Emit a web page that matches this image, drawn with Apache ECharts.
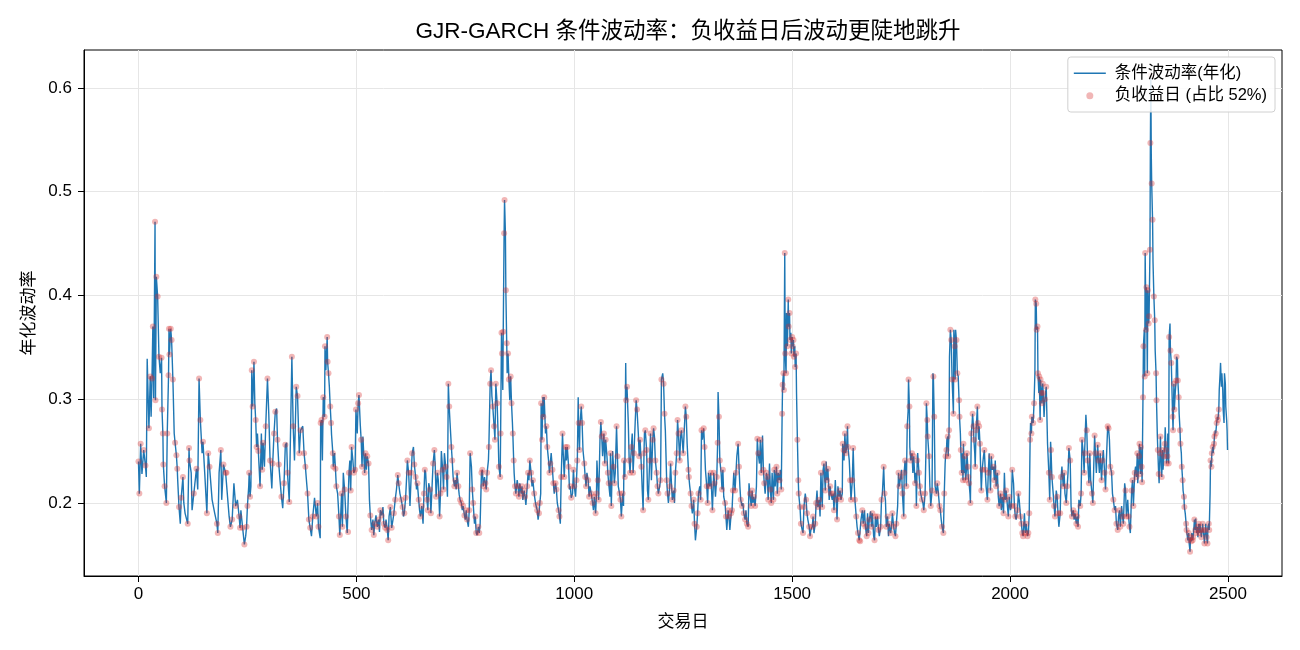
<!DOCTYPE html>
<html>
<head>
<meta charset="utf-8">
<title>GJR-GARCH 条件波动率</title>
<script src="https://cdn.jsdelivr.net/npm/echarts@6/dist/echarts.min.js"></script>
<style>
  html, body { margin: 0; padding: 0; background: #fff; }
  #main { width: 1300px; height: 650px; }
</style>
</head>
<body>
<div id="main"></div>
<script>
// 交易日 (读图估计的采样点)
var days = [
  0,2,5,8,12,16,18,20,24,27,29,31,33,35,38,39,41,44,47,50,53,54,56,57,60,64,66,69,70,71,74,76,79,82,84,87,89,90,93,96,98,102,104,107,113,116,117,121,123,127,133,136,139,142,146,148,152,157,160,163,169,175,180,182,185,189,191,195,200,
  202,208,211,215,219,223,227,231,233,235,239,243,246,248,250,253,254,256,258,260,262,265,267,269,271,273,275,279,282,284,286,289,292,296,299,302,306,308,311,314,317,319,322,325,328,331,334,337,340,342,346,349,352,355,358,362,365,368,369,372,377,380,383,386,388,391,394,397,400,404,408,411,
  413,417,418,420,422,424,427,428,430,433,434,436,438,440,442,443,446,447,450,452,454,457,460,462,463,466,468,470,473,476,479,481,483,485,487,489,492,494,497,499,502,504,506,509,511,513,515,519,521,523,525,528,530,532,535,538,540,542,545,548,551,553,555,558,561,563,566,568,571,573,575,578,581,584,586,589,592,595,597,600,603,606,608,610,613,615,617,620,
  623,626,628,631,633,636,638,640,643,645,647,650,653,655,657,659,662,664,666,669,671,674,676,679,681,683,686,688,691,693,695,698,700,702,705,707,709,711,713,715,718,720,722,725,727,729,731,734,736,738,741,743,745,748,750,752,754,757,759,761,764,766,768,771,773,775,777,780,782,784,787,789,791,794,796,798,800,803,804,807,809,811,813,816,818,820,823,825,827,
  830,831,833,834,836,837,839,840,842,843,845,846,848,850,852,854,856,858,859,861,862,864,866,869,871,873,875,878,880,882,885,887,889,892,894,896,898,901,903,905,908,910,912,915,917,919,921,923,924,926,928,929,931,934,936,938,941,943,945,947,950,952,954,957,959,961,964,966,968,970,973,975,977,980,982,984,987,989,991,993,996,998,1000,1003,1005,1007,1009,1010,1012,1013,1016,1018,1020,1023,1025,1027,1029,1032,1034,1036,
  1039,1042,1044,1046,1049,1051,1052,1054,1056,1059,1061,1063,1065,1068,1070,1072,1075,1077,1079,1082,1083,1085,1088,1090,1092,1094,1097,1099,1101,1104,1106,1108,1111,1113,1114,1116,1118,1119,1121,1124,1126,1128,1131,1133,1135,1137,1140,1142,1144,1147,1149,1151,1154,1156,1158,1160,1161,1163,1166,1168,1170,1173,1175,1177,1180,1182,1184,1186,1189,1191,1193,1196,1198,1200,1203,1205,1207,1209,1212,1214,1216,1219,1221,1223,1225,1228,1230,1232,1235,1237,1239,1242,1244,1246,
  1250,1252,1255,1257,1259,1262,1263,1265,1267,1269,1271,1274,1276,1278,1281,1283,1285,1288,1290,1292,1294,1297,1299,1301,1304,1306,1308,1311,1313,1315,1317,1320,1322,1324,1327,1329,1330,1332,1334,1337,1339,1341,1343,1346,1348,1350,1353,1355,1357,1360,1362,1364,1366,1369,1371,1373,1376,1378,1380,1382,1385,1387,1389,1392,1394,1396,1399,1401,1403,1406,1408,1410,1412,1415,1418,1420,1422,1425,1427,1429,1432,1434,1436,1438,1441,1443,1445,1448,1450,1452,1454,
  1457,1459,1461,1464,1466,1468,1471,1473,1475,1477,1478,1480,1481,1483,1484,1486,1487,1489,1491,1492,1494,1495,1497,1498,1500,1501,1503,1504,1506,1507,1509,1510,1512,1514,1515,1517,1518,1520,1523,1525,1527,1530,1532,1534,1536,1539,1541,1543,1546,1548,1550,1553,1555,1557,1559,1562,1564,1566,1569,1571,1573,1576,1578,1580,1582,1585,1587,1589,1592,1594,1596,1599,1601,1603,1605,1608,1610,1612,1615,1616,1618,1619,1621,1623,1625,1627,1628,1631,1633,1635,1638,1640,1642,1644,1647,1649,1651,1654,1656,1658,1661,1663,
  1666,1668,1671,1673,1675,1677,1680,1682,1684,1687,1689,1691,1693,1696,1698,1700,1703,1705,1707,1710,1712,1714,1716,1719,1721,1723,1726,1728,1730,1733,1735,1737,1739,1742,1744,1746,1749,1751,1753,1756,1757,1759,1761,1762,1764,1766,1767,1769,1770,1772,1775,1777,1779,1782,1784,1785,1787,1788,1791,1793,1795,1798,1800,1802,1805,1807,1808,1810,1811,1814,1816,1818,1821,1823,1824,1826,1828,1831,1833,1835,1838,1840,1842,1844,1847,1849,1851,1852,1854,1855,1857,1858,1860,1861,1863,1865,1867,1870,1871,1873,1874,
  1875,1877,1879,1881,1883,1884,1886,1887,1889,1890,1892,1893,1895,1896,1898,1900,1901,1903,1904,1906,1908,1909,1911,1913,1914,1916,1917,1919,1920,1922,1923,1925,1926,1928,1929,1931,1932,1934,1936,1939,1941,1943,1945,1948,1950,1952,1955,1957,1959,1962,1964,1966,1968,1971,1973,1975,1978,1980,1982,1985,1987,1989,1991,1994,1996,1998,2001,2003,2005,2008,2010,2012,2014,2017,2019,2021,2024,2026,2028,2030,2033,2035,2037,2040,2042,2044,2046,2047,2049,2050,2053,2055,2057,2058,2060,2061,2063,2064,2066,2067,2069,2070,2072,2073,2075,2076,2078,2080,2083,
  2086,2089,2091,2093,2094,2096,2099,2101,2103,2106,2108,2110,2112,2115,2117,2119,2122,2124,2126,2129,2131,2133,2135,2138,2140,2142,2145,2147,2149,2152,2154,2156,2158,2161,2163,2165,2168,2170,2171,2174,2176,2178,2181,2183,2185,2188,2190,2192,2194,2196,2198,2201,2203,2205,2207,2210,2212,2214,2217,2219,2221,2224,2226,2228,2230,2233,2235,2237,2240,2242,2244,2247,2249,2251,2253,2256,2258,2260,2263,2265,2267,2270,2272,2274,2276,2279,2281,2283,2286,2288,2290,2292,
  2293,2296,2297,2299,2300,2302,2303,2305,2306,2308,2309,2310,2312,2313,2315,2316,2318,2319,2321,2322,2323,2324,2325,2327,2328,2330,2332,2333,2335,2336,2338,2339,2341,2342,2344,2345,2347,2348,2350,2351,2353,2355,2356,2358,2359,2361,2362,2364,2365,2367,2368,2370,2371,2373,2374,2376,2377,2379,2381,2382,2384,2385,2387,2388,2390,2391,2393,2394,2396,2397,2399,2400,2402,2404,2405,2407,2408,2410,2411,2413,2414,2416,2417,2419,2420,2422,2423,2425,2426,2428,2430,2431,2433,2434,2436,2437,2439,2440,2442,2443,2445,2446,2448,2449,2451,2453,2454,2456,2457,2459,2460,2462,2463,2465,2466,2468,2469,2471,2472,2474,2476,2477,2479,2480,2482,2483,2485,2486,2488,2489,2491,2492,2494,2495,2497,2498,2499
];

// 条件波动率(年化)
var vol = [
  0.240,0.209,0.257,0.228,0.251,0.236,0.225,0.339,0.272,0.322,0.283,0.320,0.370,0.301,0.471,0.299,0.418,0.399,0.341,0.325,0.340,0.290,0.267,0.237,0.216,0.200,0.267,0.323,0.368,0.343,0.368,0.357,0.319,0.267,0.258,0.246,0.233,0.222,0.196,0.180,0.205,0.225,0.200,0.190,0.180,0.253,0.241,0.229,0.193,0.209,0.233,0.213,0.320,0.280,0.248,0.259,0.229,0.190,0.248,0.235,0.203,0.190,0.180,0.171,0.229,0.251,0.203,0.237,0.229,
  0.229,0.187,0.177,0.184,0.219,0.197,0.203,0.187,0.176,0.193,0.176,0.160,0.168,0.177,0.197,0.216,0.229,0.206,0.216,0.328,0.293,0.336,0.296,0.280,0.254,0.267,0.250,0.216,0.267,0.232,0.258,0.235,0.274,0.320,0.286,0.241,0.214,0.238,0.267,0.288,0.291,0.261,0.237,0.221,0.206,0.195,0.219,0.256,0.258,0.229,0.201,0.270,0.341,0.274,0.241,0.312,0.303,0.261,0.248,0.270,0.274,0.248,0.235,0.219,0.209,0.184,0.176,0.168,0.187,0.205,0.187,0.200,
  0.177,0.166,0.277,0.280,0.241,0.302,0.283,0.351,0.328,0.360,0.336,0.325,0.312,0.293,0.277,0.266,0.248,0.235,0.248,0.233,0.216,0.209,0.187,0.169,0.177,0.209,0.177,0.229,0.213,0.187,0.171,0.172,0.229,0.241,0.212,0.254,0.241,0.229,0.232,0.290,0.267,0.296,0.304,0.275,0.261,0.235,0.264,0.229,0.248,0.232,0.245,0.238,0.203,0.188,0.174,0.184,0.169,0.180,0.188,0.177,0.184,0.172,0.193,0.188,0.196,0.180,0.176,0.184,0.174,0.164,0.187,0.196,0.176,0.184,0.190,0.203,0.213,0.227,0.219,0.209,0.203,0.196,0.187,0.190,0.205,0.222,0.241,0.229,
  0.197,0.229,0.248,0.254,0.237,0.225,0.213,0.219,0.203,0.193,0.187,0.197,0.180,0.209,0.232,0.229,0.203,0.193,0.219,0.213,0.190,0.219,0.238,0.251,0.235,0.206,0.229,0.222,0.187,0.209,0.250,0.232,0.213,0.248,0.235,0.225,0.206,0.315,0.293,0.277,0.254,0.241,0.225,0.216,0.222,0.213,0.229,0.216,0.208,0.203,0.200,0.193,0.197,0.188,0.184,0.193,0.184,0.177,0.193,0.248,0.235,0.213,0.200,0.180,0.187,0.171,0.169,0.177,0.171,0.180,0.229,0.232,0.216,0.225,0.219,0.213,0.229,0.241,0.254,0.315,0.328,0.303,0.293,0.274,0.261,0.315,0.296,0.270,0.235,
  0.225,0.267,0.364,0.344,0.309,0.365,0.460,0.492,0.460,0.405,0.354,0.325,0.344,0.319,0.299,0.322,0.296,0.278,0.267,0.241,0.229,0.216,0.209,0.222,0.216,0.206,0.219,0.209,0.216,0.203,0.212,0.206,0.198,0.216,0.229,0.222,0.241,0.229,0.216,0.222,0.209,0.203,0.198,0.193,0.184,0.190,0.200,0.209,0.296,0.261,0.302,0.283,0.302,0.267,0.274,0.254,0.241,0.229,0.238,0.248,0.232,0.219,0.209,0.219,0.213,0.200,0.193,0.187,0.180,0.225,0.267,0.245,0.225,0.254,0.241,0.254,0.235,0.213,0.216,0.205,0.209,0.232,0.216,0.206,0.222,0.241,0.302,0.277,0.251,0.274,0.293,0.277,0.251,0.238,0.225,0.216,0.229,0.222,0.206,0.216,
  0.209,0.200,0.193,0.206,0.190,0.209,0.241,0.222,0.203,0.261,0.278,0.264,0.245,0.267,0.238,0.261,0.245,0.229,0.219,0.206,0.248,0.197,0.250,0.235,0.219,0.229,0.274,0.245,0.216,0.209,0.203,0.187,0.209,0.197,0.241,0.225,0.335,0.299,0.312,0.277,0.241,0.229,0.254,0.267,0.229,0.248,0.280,0.299,0.290,0.267,0.245,0.261,0.235,0.212,0.193,0.248,0.267,0.270,0.251,0.212,0.203,0.241,0.267,0.222,0.261,0.272,0.264,0.241,0.229,0.216,0.209,0.216,0.222,0.319,0.325,0.315,0.286,0.270,0.222,0.209,0.200,0.216,0.238,0.219,0.203,0.212,0.200,0.229,0.248,0.280,0.267,0.241,0.264,0.270,
  0.248,0.267,0.293,0.283,0.257,0.232,0.225,0.216,0.209,0.197,0.190,0.203,0.180,0.164,0.177,0.190,0.209,0.216,0.203,0.270,0.261,0.272,0.254,0.232,0.216,0.200,0.229,0.216,0.229,0.213,0.193,0.229,0.219,0.206,0.225,0.258,0.307,0.283,0.241,0.229,0.213,0.232,0.206,0.200,0.187,0.174,0.193,0.187,0.174,0.190,0.193,0.212,0.229,0.212,0.229,0.245,0.257,0.235,0.216,0.203,0.197,0.200,0.190,0.184,0.193,0.180,0.177,0.219,0.209,0.197,0.212,0.200,0.206,0.197,0.216,0.262,0.248,0.238,0.261,0.229,0.265,0.232,0.219,0.209,0.229,0.225,0.203,0.238,0.213,0.200,0.229,
  0.203,0.232,0.216,0.235,0.209,0.229,0.222,0.232,0.213,0.286,0.314,0.325,0.309,0.441,0.344,0.325,0.383,0.351,0.396,0.370,0.383,0.357,0.364,0.344,0.360,0.351,0.357,0.341,0.351,0.331,0.344,0.306,0.261,0.222,0.209,0.200,0.196,0.180,0.174,0.171,0.196,0.209,0.203,0.190,0.184,0.177,0.168,0.174,0.177,0.187,0.171,0.180,0.200,0.212,0.196,0.203,0.187,0.229,0.196,0.232,0.238,0.212,0.240,0.222,0.233,0.203,0.216,0.209,0.203,0.209,0.193,0.222,0.203,0.184,0.216,0.206,0.212,0.203,0.209,0.257,0.251,0.241,0.267,0.248,0.254,0.274,0.254,0.241,0.222,0.203,0.222,0.253,0.222,0.203,0.187,0.177,0.171,0.164,0.163,0.184,0.193,0.180,
  0.193,0.177,0.168,0.190,0.171,0.184,0.192,0.177,0.190,0.168,0.164,0.187,0.177,0.187,0.174,0.168,0.177,0.203,0.209,0.235,0.209,0.203,0.177,0.187,0.168,0.180,0.171,0.177,0.190,0.177,0.171,0.168,0.180,0.197,0.229,0.216,0.225,0.232,0.209,0.187,0.229,0.241,0.229,0.216,0.274,0.288,0.319,0.293,0.254,0.241,0.248,0.229,0.245,0.219,0.229,0.197,0.241,0.248,0.229,0.216,0.209,0.203,0.200,0.193,0.209,0.251,0.296,0.280,0.264,0.245,0.216,0.197,0.212,0.325,0.322,0.283,0.216,0.209,0.219,0.212,0.197,0.193,0.184,0.177,0.171,0.209,0.238,0.245,0.251,0.261,0.264,0.245,0.270,0.341,0.367,0.357,0.319,0.286,0.367,0.351,0.319,
  0.367,0.357,0.325,0.322,0.299,0.283,0.267,0.251,0.229,0.248,0.222,0.257,0.229,0.245,0.222,0.232,0.248,0.235,0.225,0.219,0.209,0.200,0.267,0.277,0.286,0.274,0.261,0.248,0.235,0.270,0.277,0.293,0.277,0.261,0.274,0.257,0.241,0.212,0.232,0.245,0.251,0.232,0.216,0.203,0.229,0.248,0.212,0.245,0.232,0.235,0.222,0.241,0.216,0.229,0.206,0.197,0.209,0.193,0.206,0.190,0.229,0.203,0.212,0.197,0.187,0.206,0.193,0.197,0.232,0.219,0.197,0.187,0.184,0.193,0.209,0.203,0.187,0.180,0.171,0.168,0.190,0.171,0.180,0.168,0.171,0.190,0.261,0.277,0.267,0.283,0.277,0.296,0.325,0.396,0.392,0.367,0.370,0.325,0.306,0.322,0.280,0.319,0.306,0.296,0.315,0.306,0.283,0.300,0.312,
  0.257,0.229,0.203,0.259,0.251,0.225,0.209,0.197,0.187,0.212,0.206,0.190,0.177,0.190,0.225,0.235,0.216,0.229,0.209,0.200,0.216,0.229,0.253,0.241,0.197,0.187,0.193,0.184,0.190,0.180,0.187,0.177,0.203,0.197,0.209,0.261,0.248,0.229,0.248,0.285,0.270,0.241,0.219,0.248,0.222,0.209,0.200,0.235,0.265,0.248,0.229,0.256,0.241,0.229,0.248,0.222,0.241,0.251,0.229,0.213,0.241,0.274,0.272,0.261,0.235,0.229,0.209,0.203,0.193,0.197,0.180,0.174,0.187,0.193,0.177,0.197,0.187,0.180,0.219,0.212,0.187,0.203,0.187,0.177,0.171,0.212,0.222,0.197,0.229,0.235,0.225,0.248,
  0.219,0.245,0.257,0.228,0.254,0.235,0.220,0.302,0.351,0.367,0.322,0.441,0.367,0.408,0.325,0.405,0.373,0.380,0.444,0.547,0.612,0.537,0.508,0.473,0.433,0.399,0.376,0.347,0.325,0.299,0.264,0.251,0.228,0.219,0.248,0.264,0.235,0.225,0.251,0.232,0.245,0.257,0.273,0.251,0.238,0.245,0.267,0.238,0.360,0.373,0.347,0.335,0.318,0.283,0.270,0.315,0.290,0.306,0.318,0.341,0.338,0.318,0.302,0.286,0.270,0.257,0.248,0.235,0.222,0.212,0.206,0.196,0.190,0.180,0.174,0.167,0.164,0.171,0.161,0.153,0.167,0.163,0.171,0.164,0.167,0.177,0.184,0.174,0.185,0.171,0.177,0.167,0.180,0.171,0.180,0.174,0.167,0.171,0.180,0.174,0.167,0.161,0.174,0.180,0.167,0.161,0.177,0.180,0.174,0.209,0.241,0.235,0.248,0.254,0.248,0.257,0.264,0.270,0.267,0.277,0.283,0.280,0.290,0.309,0.325,0.335,0.312,0.325,0.309,0.290,0.277,0.325,0.315,0.293,0.280,0.270,0.251
];

// 负收益日标记 (1 = 当日收益为负)
var neg = [
  1,1,1,0,1,1,0,0,1,1,0,1,1,0,1,1,1,1,1,0,1,1,1,1,1,1,1,1,1,1,1,1,1,0,1,1,1,0,1,0,1,1,0,0,1,1,1,0,0,1,1,0,1,1,0,1,0,1,1,1,0,0,1,1,0,1,0,1,1,
  1,0,1,1,0,1,0,1,1,0,1,1,0,1,1,0,1,1,0,1,1,1,0,1,1,0,1,1,0,1,1,0,1,1,0,1,0,1,1,1,0,1,1,0,1,0,1,1,0,1,1,0,1,1,0,1,1,0,1,1,0,1,1,0,1,1,1,0,1,0,1,1,
  1,0,1,1,0,1,1,1,0,1,1,1,0,1,1,0,1,1,0,1,1,0,1,1,0,1,1,0,1,1,0,1,1,0,1,1,0,1,1,1,0,1,1,0,1,1,0,1,1,0,1,1,0,1,1,0,1,1,0,1,1,0,1,1,0,1,1,0,1,1,0,1,1,0,1,1,0,1,1,0,1,1,0,
  1,1,0,1,1,0,1,1,0,1,1,0,1,1,0,1,1,0,1,1,0,1,1,0,1,1,0,1,1,0,1,1,0,1,1,0,1,1,0,1,1,0,1,1,0,1,1,0,1,1,0,1,1,0,1,1,0,1,1,0,1,1,0,1,1,0,1,1,0,1,1,0,1,1,0,1,1,1,0,1,1,1,0,1,1,1,0,1,1,
  1,1,1,0,1,1,1,1,1,0,1,1,1,0,1,1,0,1,1,0,1,1,0,1,1,0,1,1,0,1,1,0,1,1,0,1,1,0,1,1,0,1,1,0,1,1,0,1,1,0,1,1,0,1,1,0,1,1,0,1,1,0,1,1,0,1,1,0,1,1,0,1,1,0,1,1,0,1,1,0,1,1,0,1,1,0,1,1,0,1,1,0,1,1,0,1,1,0,1,1,
  1,0,1,1,0,1,1,0,1,1,1,0,1,1,0,1,1,0,1,1,1,0,1,1,0,1,1,0,1,1,0,1,1,0,1,1,1,1,0,1,1,0,1,1,0,1,1,1,0,1,1,0,1,1,0,1,1,1,0,1,1,0,1,1,0,1,1,1,0,1,1,0,1,1,1,1,0,1,1,0,1,1,0,1,1,0,1,1,0,1,1,0,1,1,
  1,1,1,0,1,1,0,1,1,0,1,1,0,1,1,0,1,1,0,1,1,1,0,1,1,0,1,1,0,1,1,0,1,1,0,1,1,1,0,1,1,0,1,1,0,1,1,0,1,1,0,1,1,0,1,1,1,0,1,1,0,1,1,0,1,1,0,1,1,0,1,1,0,1,1,1,0,1,1,0,1,1,0,1,1,0,1,1,0,1,1,
  1,0,1,1,0,1,1,0,1,1,1,1,0,1,1,1,1,1,1,1,1,0,1,1,1,1,1,0,1,1,1,1,1,0,1,1,0,1,1,1,0,1,1,0,1,1,0,1,1,0,1,1,0,1,1,0,1,1,0,1,1,0,1,1,0,1,1,0,1,1,0,1,1,0,1,1,0,1,1,0,1,1,1,0,1,1,0,1,1,0,1,1,0,1,1,1,1,0,1,1,0,1,
  1,1,0,1,1,0,1,1,0,1,1,0,1,1,0,1,1,0,1,1,0,1,1,0,1,1,0,1,1,0,1,1,0,1,1,0,1,1,0,1,1,1,0,1,1,1,1,0,1,1,0,1,1,0,1,1,0,1,1,0,1,1,0,1,1,1,1,0,1,1,0,1,1,1,1,0,1,1,0,1,1,0,1,1,0,1,1,0,1,1,1,0,1,1,0,1,1,1,0,1,1,
  1,1,0,1,1,0,1,1,0,1,1,0,1,1,0,1,1,0,1,1,0,1,1,1,1,0,1,1,0,1,1,1,0,1,1,0,1,1,0,1,1,0,1,1,0,1,1,0,1,1,0,1,1,0,1,1,0,1,1,0,1,1,0,1,1,0,1,1,0,1,1,0,1,1,0,1,1,0,1,1,0,1,1,1,1,0,1,1,1,1,1,1,0,1,1,1,1,0,1,1,1,1,1,0,1,1,1,1,1,
  1,1,0,1,1,0,1,1,0,1,1,0,1,1,0,1,1,0,1,1,0,1,1,0,1,1,0,1,1,0,1,1,0,1,1,1,1,0,1,1,1,0,1,1,0,1,1,1,1,0,1,1,0,1,1,0,1,1,0,1,1,1,0,1,1,0,1,1,0,1,1,0,1,1,0,1,1,0,1,1,0,1,1,0,1,1,0,1,1,0,1,1,
  1,1,0,1,1,0,1,1,1,1,1,1,1,1,0,1,1,1,1,1,1,1,1,1,1,1,0,1,1,0,1,1,0,1,1,0,1,1,0,1,1,0,1,1,0,1,1,0,1,1,1,0,1,1,0,1,1,0,1,1,1,1,0,1,1,0,1,1,0,1,1,0,1,1,0,1,1,0,1,1,0,1,1,0,1,1,1,0,1,1,0,1,1,0,1,1,0,1,1,0,1,1,0,1,1,0,1,1,0,1,1,0,1,1,0,1,1,1,1,0,1,1,0,1,1,1,1,1,0
];

var xTicks = [0, 500, 1000, 1500, 2000, 2500];
var yTicks = [0.2, 0.3, 0.4, 0.5, 0.6];

var FONT = "'Liberation Sans', 'Noto Sans CJK SC', sans-serif";

var n = Math.min(days.length, vol.length);
var linePts = [];
var negPts = [];
for (var i = 0; i < n; i++) {
  linePts.push([days[i], vol[i]]);
  if (neg[i]) negPts.push([days[i], vol[i]]);
}

var chart = echarts.init(document.getElementById('main'), null, { renderer: 'canvas' });

var option = {
  backgroundColor: '#fff',
  animation: false,
  textStyle: { fontFamily: FONT },
  title: {
    text: 'GJR-GARCH 条件波动率：负收益日后波动更陡地跳升',
    left: 683,
    top: 16,
    textAlign: 'center',
    textStyle: { fontSize: 22.5, fontWeight: 'normal', color: '#000', fontFamily: FONT }
  },
  legend: {
    orient: 'vertical',
    right: 25,
    top: 57,
    padding: [8, 8, 8, 6],
    itemGap: 6,
    itemWidth: 32,
    itemHeight: 7,
    backgroundColor: 'rgba(255,255,255,0.85)',
    borderColor: '#d0d0d0',
    borderWidth: 1,
    borderRadius: 3,
    textStyle: { fontSize: 16.5, color: '#000', fontFamily: FONT, padding: [0, 0, 0, 4] },
    data: [
      { name: '条件波动率(年化)', icon: 'path://M0,0L32,0L32,1.4L0,1.4Z' },
      { name: '负收益日 (占比 52%)', icon: 'circle' }
    ]
  },
  grid: {
    left: 84, right: 18, top: 50, bottom: 74,
    show: true, borderColor: '#000', borderWidth: 1, backgroundColor: 'transparent'
  },
  xAxis: {
    type: 'value',
    min: -125,
    max: 2624,
    name: '交易日',
    nameLocation: 'middle',
    nameGap: 38,
    nameTextStyle: { fontSize: 17, color: '#000', fontFamily: FONT },
    axisLine: { show: true, onZero: false, lineStyle: { color: '#000', width: 1 } },
    axisTick: { show: true, inside: false, customValues: xTicks, length: 6, lineStyle: { color: '#000' } },
    axisLabel: {
      customValues: xTicks, fontSize: 17, color: '#000', margin: 10, fontFamily: FONT,
      formatter: function (v) { return String(v); }
    },
    splitLine: { show: true, lineStyle: { color: '#e6e6e6', width: 1 } }
  },
  yAxis: {
    type: 'value',
    min: 0.1296,
    max: 0.6366,
    name: '年化波动率',
    nameLocation: 'middle',
    nameGap: 46,
    nameRotate: 90,
    nameTextStyle: { fontSize: 17, color: '#000', fontFamily: FONT },
    axisLine: { show: true, onZero: false, lineStyle: { color: '#000', width: 1 } },
    axisTick: { show: true, inside: false, customValues: yTicks, length: 6, lineStyle: { color: '#000' } },
    axisLabel: {
      customValues: yTicks, fontSize: 17, color: '#000', margin: 12, fontFamily: FONT,
      formatter: function (v) { return v.toFixed(1); }
    },
    splitLine: { show: true, lineStyle: { color: '#e6e6e6', width: 1 } }
  },
  series: [
    {
      name: '条件波动率(年化)',
      type: 'line',
      symbol: 'none',
      data: linePts,
      lineStyle: { color: '#1f77b4', width: 1.4 },
      itemStyle: { color: '#1f77b4' },
      z: 2
    },
    {
      name: '负收益日 (占比 52%)',
      type: 'scatter',
      data: negPts,
      symbolSize: 6,
      itemStyle: { color: 'rgba(214,39,40,0.42)' },
      z: 3
    }
  ]
};

chart.setOption(option);
</script>
</body>
</html>
